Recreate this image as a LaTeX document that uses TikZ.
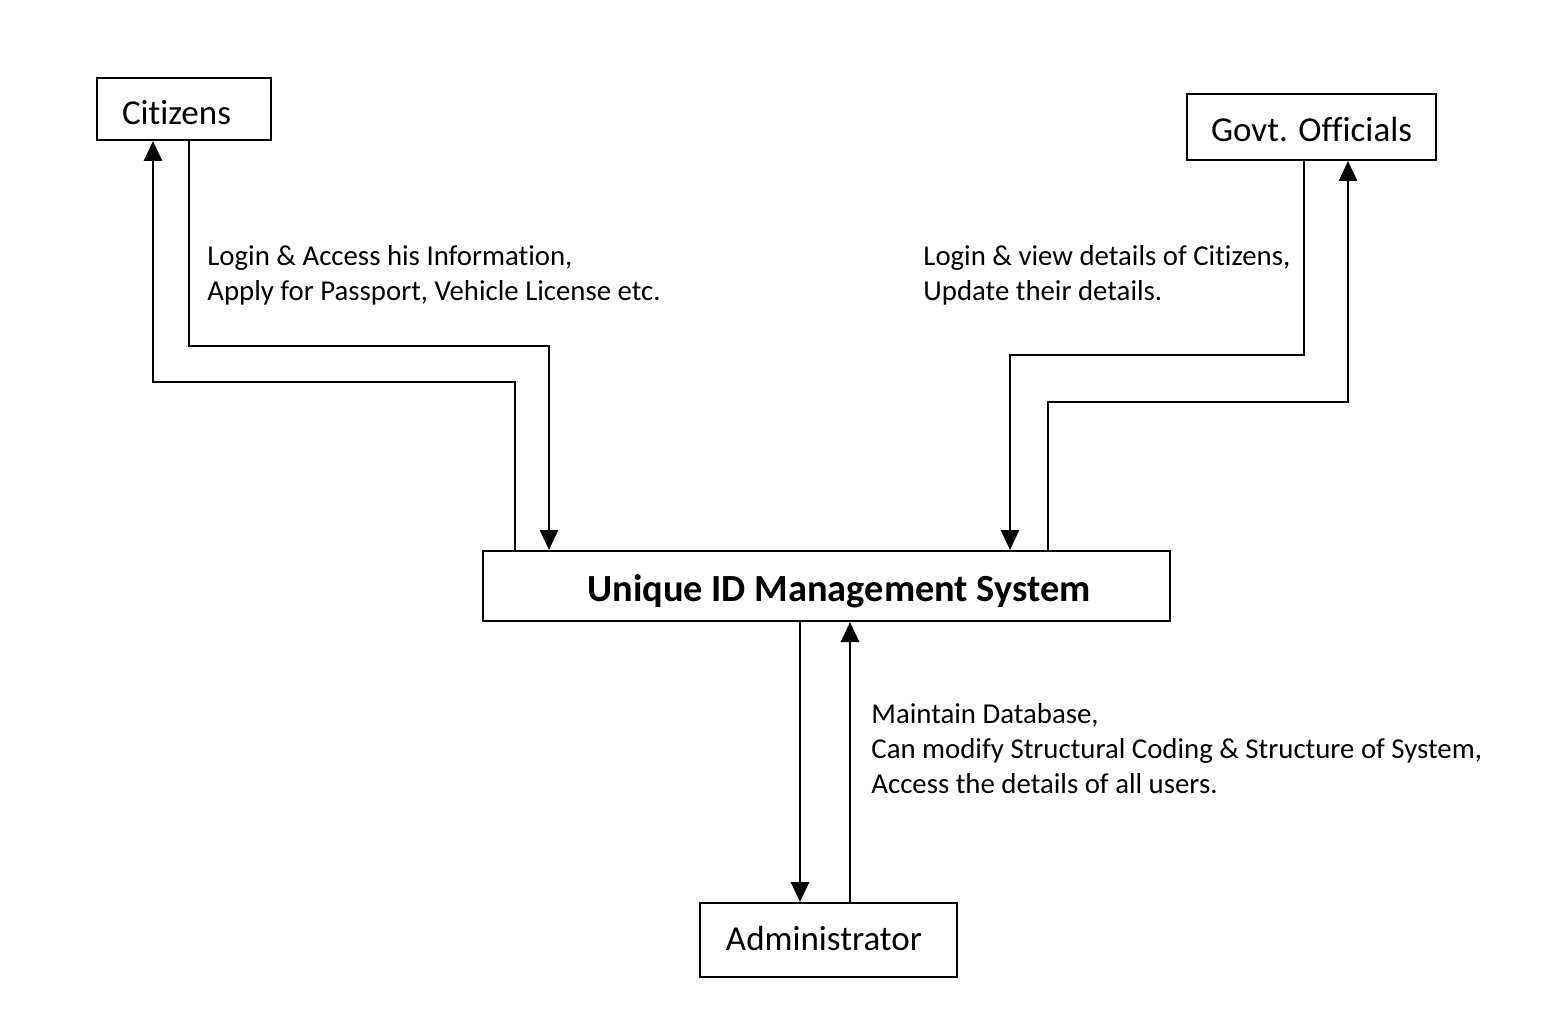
\documentclass[tikz,border=0pt]{standalone}
\usepackage{fontspec}
\setmainfont{Carlito}[Ligatures={NoCommon}]
\usetikzlibrary{arrows.meta}
\newcommand{\mvtxt}[2]{\raisebox{#1}[\height][\depth]{#2}}
\begin{document}
\begin{tikzpicture}[x=0.5pt,y=-0.5pt,
  box/.style={draw, line width=1pt, inner sep=0pt, font=\fontsize{17.5}{20}\selectfont},
  arr/.style={line width=1.4pt, -{Triangle[width=9pt,length=10pt]}},
  lbl/.style={inner sep=0pt, align=left, anchor=west, font=\fontsize{14.4}{17.5}\selectfont}]
\useasboundingbox (0,0) rectangle (1555,1011);
\node[box, minimum width=87pt, minimum height=31pt] (cit) at (184,109) {\mvtxt{-2pt}{Citizens}\rule{7.5pt}{0pt}};
\node[box, minimum width=124.5pt, minimum height=33pt] (gov) at (1311.5,127) {\mvtxt{-1pt}{Govt. Officials}};
\node[box, minimum width=343.5pt, minimum height=35pt, font=\fontsize{19.2}{22}\selectfont\bfseries] (uims) at (826.5,586) {\hspace{12.5pt}\mvtxt{-2.5pt}{Unique ID Management System}};
\node[box, minimum width=128.5pt, minimum height=37pt] (adm) at (828.5,940) {\mvtxt{1pt}{Administrator}\rule{4.5pt}{0pt}};
% Citizens connectors
\coordinate (a1) at (515,382);
\coordinate (a2) at (153,382);
\draw[arr] (uims.north -| a1) -- (a1) -- (a2) -- (cit.south -| a2);
\coordinate (b1) at (189,346);
\coordinate (b2) at (549,346);
\draw[arr] (cit.south -| b1) -- (b1) -- (b2) -- (uims.north -| b2);
% Govt connectors
\coordinate (c1) at (1304,355);
\coordinate (c2) at (1010,355);
\draw[arr] (gov.south -| c1) -- (c1) -- (c2) -- (uims.north -| c2);
\coordinate (d1) at (1048,402);
\coordinate (d2) at (1348,402);
\draw[arr] (uims.north -| d1) -- (d1) -- (d2) -- (gov.south -| d2);
% Admin connectors
\coordinate (e1) at (800,0);
\coordinate (e2) at (850,0);
\draw[arr] (uims.south -| e1) -- (adm.north -| e1);
\draw[arr] (adm.north -| e2) -- (uims.south -| e2);
% Labels
\node[lbl] (l1) at (207,275.5) {Login \& Access his Information,\\Apply for Passport, Vehicle License etc.};
\node[lbl] (l2) at (923,275.5) {Login \& view details of Citizens,\\Update their details.};
\node[lbl] (l3) at (871,749) {Maintain Database,\\Can modify Structural Coding \& Structure of System,\\Access the details of all users.};
\end{tikzpicture}
\end{document}
